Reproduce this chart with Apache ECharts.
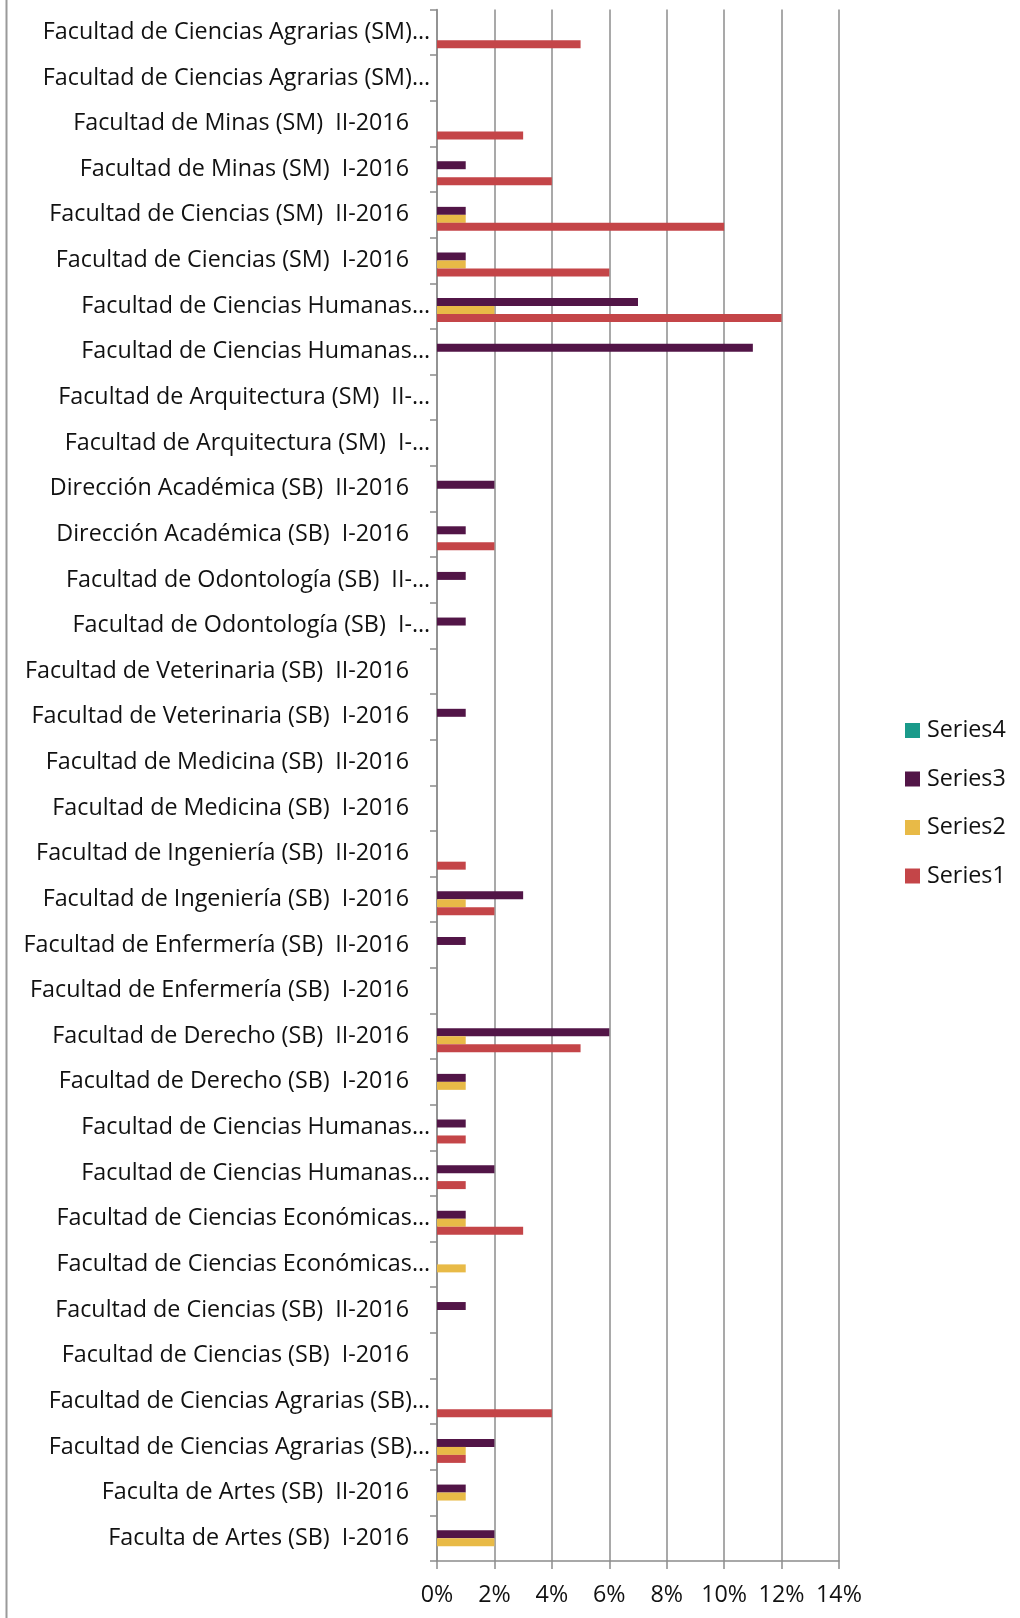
<!DOCTYPE html>
<html>
<head>
<meta charset="utf-8">
<script src="https://cdn.jsdelivr.net/npm/echarts@6/dist/echarts.min.js"></script>
<style>
  html, body { margin: 0; padding: 0; background: #fff; }
  #chart { width: 1020px; height: 1618px; }
</style>
</head>
<body>
<div id="chart"></div>
<script>
// Categories listed bottom -> top (as the category axis draws them)
const categories = [
  "Faculta de Artes (SB)  I-2016",
  "Faculta de Artes (SB)  II-2016",
  "Facultad de Ciencias Agrarias (SB)…",
  "Facultad de Ciencias Agrarias (SB)…",
  "Facultad de Ciencias (SB)  I-2016",
  "Facultad de Ciencias (SB)  II-2016",
  "Facultad de Ciencias Económicas…",
  "Facultad de Ciencias Económicas…",
  "Facultad de Ciencias Humanas…",
  "Facultad de Ciencias Humanas…",
  "Facultad de Derecho (SB)  I-2016",
  "Facultad de Derecho (SB)  II-2016",
  "Facultad de Enfermería (SB)  I-2016",
  "Facultad de Enfermería (SB)  II-2016",
  "Facultad de Ingeniería (SB)  I-2016",
  "Facultad de Ingeniería (SB)  II-2016",
  "Facultad de Medicina (SB)  I-2016",
  "Facultad de Medicina (SB)  II-2016",
  "Facultad de Veterinaria (SB)  I-2016",
  "Facultad de Veterinaria (SB)  II-2016",
  "Facultad de Odontología (SB)  I-…",
  "Facultad de Odontología (SB)  II-…",
  "Dirección Académica (SB)  I-2016",
  "Dirección Académica (SB)  II-2016",
  "Facultad de Arquitectura (SM)  I-…",
  "Facultad de Arquitectura (SM)  II-…",
  "Facultad de Ciencias Humanas…",
  "Facultad de Ciencias Humanas…",
  "Facultad de Ciencias (SM)  I-2016",
  "Facultad de Ciencias (SM)  II-2016",
  "Facultad de Minas (SM)  I-2016",
  "Facultad de Minas (SM)  II-2016",
  "Facultad de Ciencias Agrarias (SM)…",
  "Facultad de Ciencias Agrarias (SM)…"
];

// Values in percent, same order as categories
const series1 = [0,0,1,4,0,0,0,3,1,1,0,5,0,0,2,1,0,0,0,0,0,0,2,0,0,0,0,12,6,10,4,3,0,5];
const series2 = [2,1,1,0,0,0,1,1,0,0,1,1,0,0,1,0,0,0,0,0,0,0,0,0,0,0,0,2,1,1,0,0,0,0];
const series3 = [2,1,2,0,0,1,0,1,2,1,1,6,0,1,3,0,0,0,1,0,1,1,1,2,0,0,11,7,1,1,1,0,0,0];
const series4 = [0,0,0,0,0,0,0,0,0,0,0,0,0,0,0,0,0,0,0,0,0,0,0,0,0,0,0,0,0,0,0,0,0,0];

const seriesNames = ["Series1", "Series2", "Series3", "Series4"];
const legendOrder = ["Series4", "Series3", "Series2", "Series1"];
const xTicks = { min: 0, max: 14, interval: 2 };

const colors = {
  Series1: "#C44548",
  Series2: "#E8BA47",
  Series3: "#521547",
  Series4: "#1A9A8A"
};

const FONT = "Open Sans";
const FS = 23.3;
const GRAY = "#8C8C8C";

const chart = echarts.init(document.getElementById("chart"), null, { renderer: "canvas" });

const dataByName = { Series1: series1, Series2: series2, Series3: series3, Series4: series4 };
// declared top-to-bottom within each category band
const drawOrder = seriesNames.slice().reverse();

const option = {
  animation: false,
  backgroundColor: "#ffffff",
  textStyle: { fontFamily: FONT },
  grid: { left: 437, right: 181, top: 9.5, bottom: 57, containLabel: false },
  legend: {
    orient: "vertical",
    left: 905,
    top: 719,
    padding: 0,
    itemWidth: 15,
    itemHeight: 15,
    itemGap: 25.5,
    icon: "rect",
    data: legendOrder,
    textStyle: { fontFamily: FONT, fontSize: FS, color: "#111", lineHeight: 23, padding: [0, 0, 0, 2] }
  },
  xAxis: {
    type: "value",
    min: xTicks.min,
    max: xTicks.max,
    interval: xTicks.interval,
    axisLine: { show: true, lineStyle: { color: GRAY, width: 1.5 } },
    axisTick: { show: true, length: 8, lineStyle: { color: GRAY, width: 1.5 } },
    splitLine: { show: true, lineStyle: { color: GRAY, width: 1.5 } },
    axisLabel: {
      margin: 23,
      fontFamily: FONT,
      fontSize: FS,
      color: "#111",
      formatter: "{value}%"
    }
  },
  yAxis: {
    type: "category",
    data: categories,
    axisLine: { show: true, lineStyle: { color: GRAY, width: 1.5 } },
    axisTick: { show: true, length: 7, lineStyle: { color: GRAY, width: 1.5 } },
    splitLine: { show: false },
    axisLabel: {
      interval: 0,
      margin: 7,
      fontFamily: FONT,
      fontSize: FS,
      color: "#111",
      formatter: function (v) {
        return v.endsWith("…") ? "{t|" + v + "}" : "{n|" + v + "}";
      },
      rich: {
        t: { fontFamily: FONT, fontSize: FS, color: "#111" },
        n: { fontFamily: FONT, fontSize: FS, color: "#111", padding: [0, 21, 0, 0] }
      }
    }
  },
  series: drawOrder.map(function (name) {
    return {
      name: name,
      type: "bar",
      data: dataByName[name],
      barGap: "0%",
      barCategoryGap: "30%",
      itemStyle: { color: colors[name] }
    };
  }),
  graphic: [
    {
      type: "line",
      shape: { x1: 6.5, y1: 0, x2: 6.5, y2: 1618 },
      style: { stroke: "#9A9A9A", lineWidth: 2 },
      silent: true
    }
  ]
};

chart.setOption(option);
</script>
</body>
</html>
